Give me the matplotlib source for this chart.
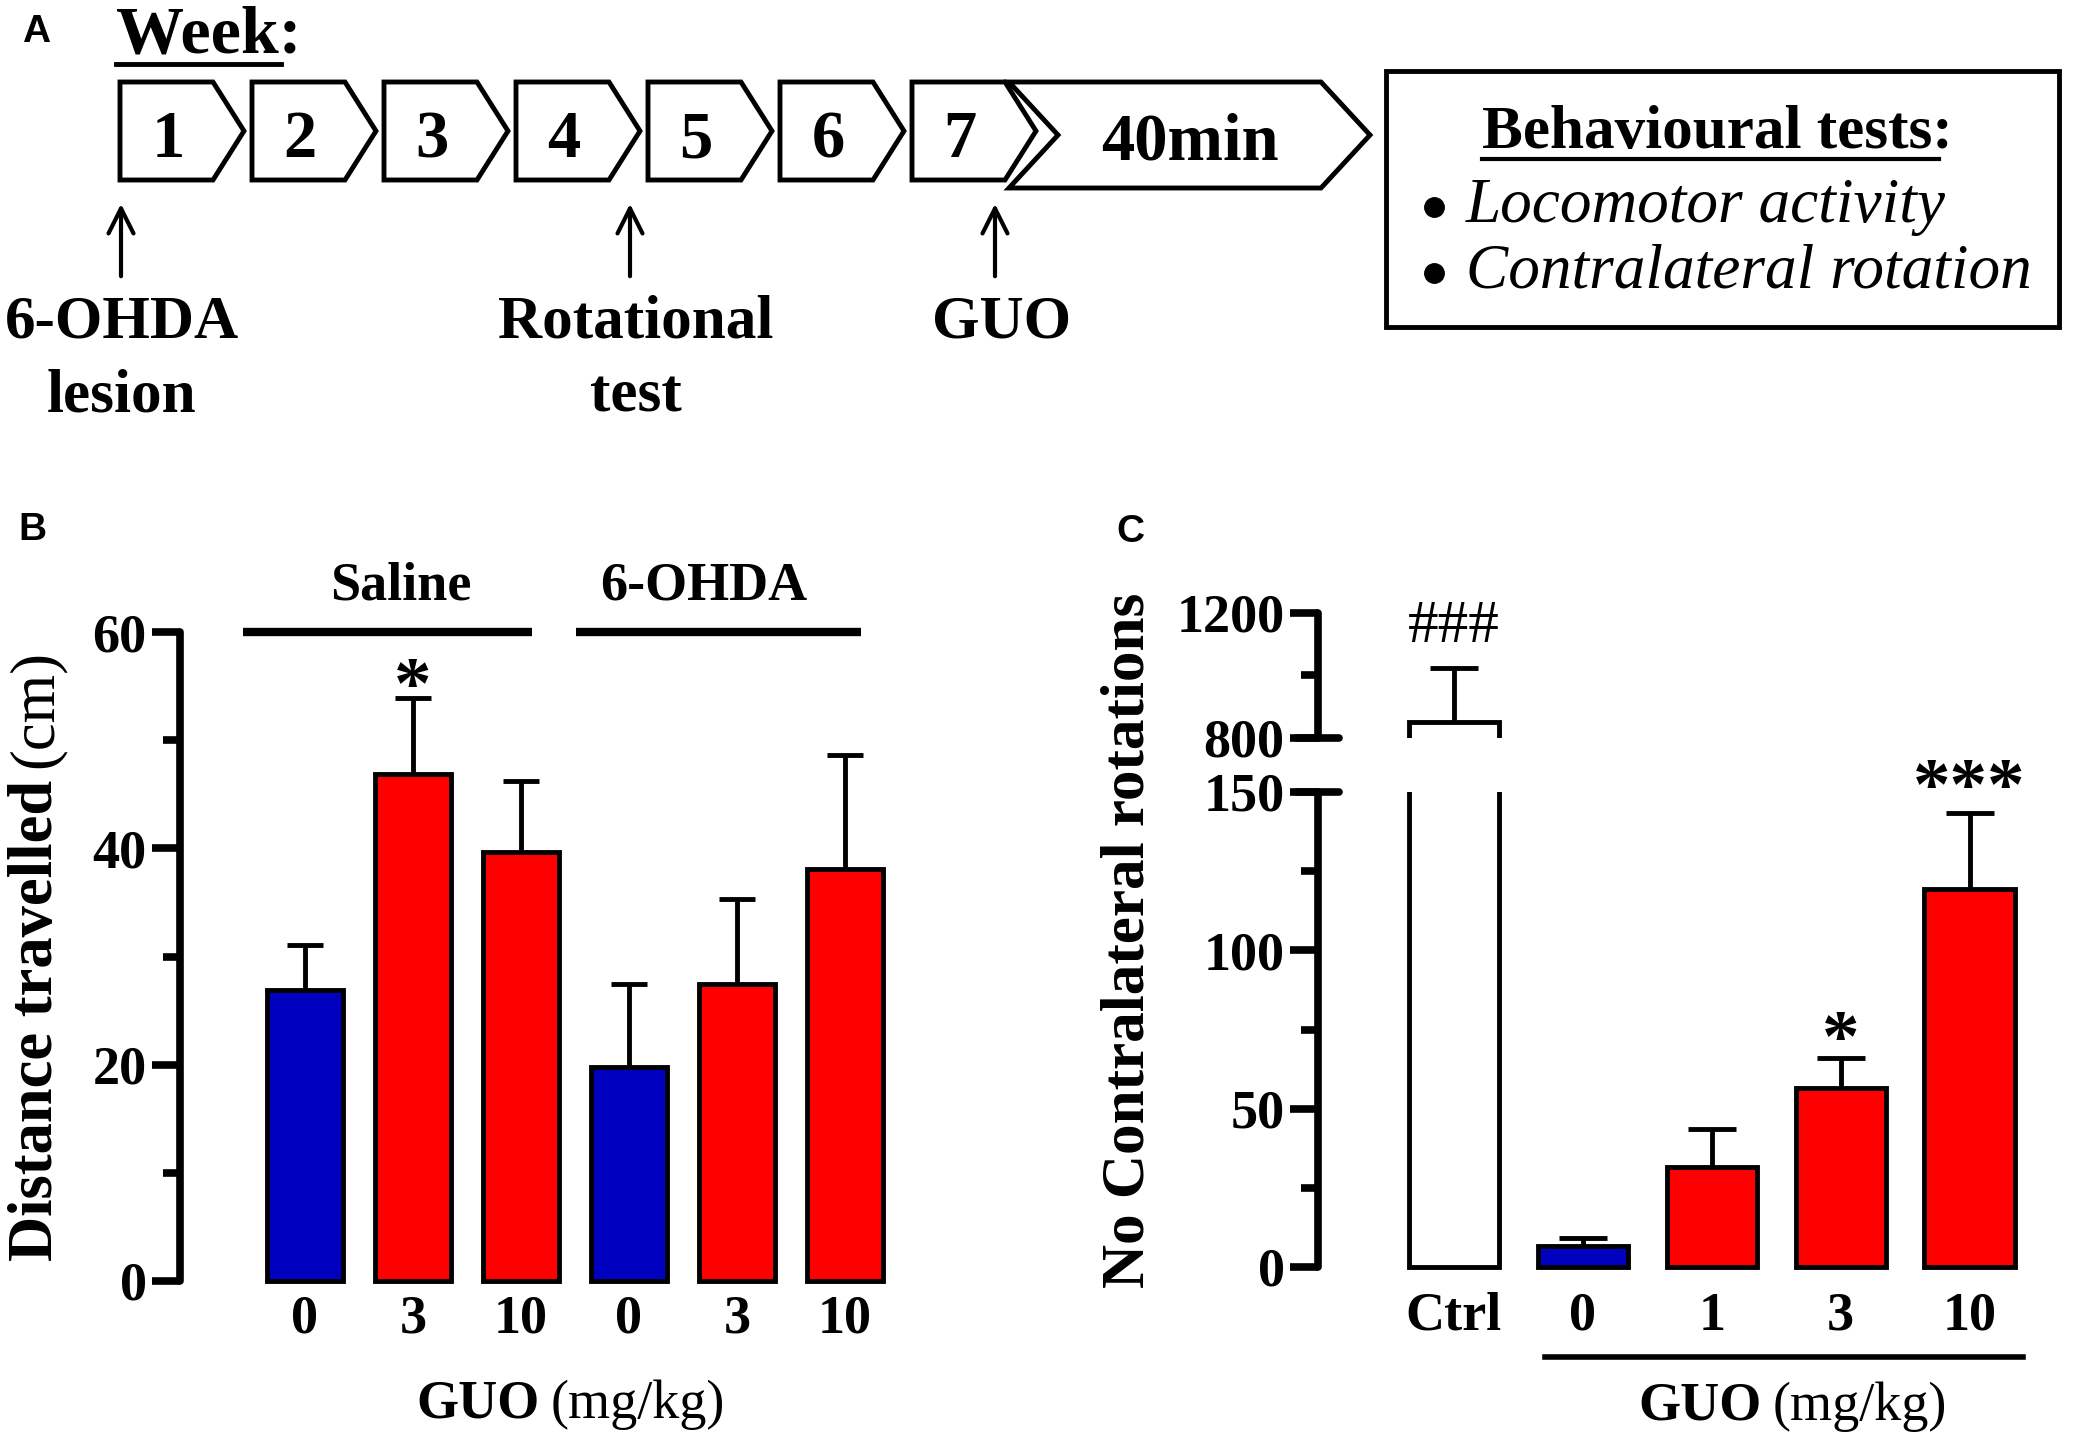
import matplotlib.pyplot as plt
from matplotlib.patches import Polygon, Rectangle
from matplotlib.ticker import MultipleLocator

plt.rcParams['font.family'] = ['Liberation Serif', 'DejaVu Serif']
plt.rcParams['font.weight'] = 'bold'

# ---- panel A: timeline ----
weeks = ['1', '2', '3', '4', '5', '6', '7']
final_step = '40min'
events = ['6-OHDA\nlesion', 'Rotational\ntest', 'GUO']
tests_title = 'Behavioural tests:'
tests = ['Locomotor activity', 'Contralateral rotation']

# ---- panel B: distance travelled ----
b_doses = ['0', '3', '10', '0', '3', '10']
b_groups = ['Saline', '6-OHDA']
b_means = [26.9, 46.9, 39.7, 19.8, 27.5, 38.1]
b_sem = [4.2, 7.0, 6.5, 7.7, 7.8, 10.5]
b_colors = ['#0000c0', '#ff0000', '#ff0000', '#0000c0', '#ff0000', '#ff0000']
b_sig = ['', '*', '', '', '', '']

# ---- panel C: contralateral rotations ----
c_labels = ['Ctrl', '0', '1', '3', '10']
c_means = [851, 6.5, 31.5, 56.5, 119.5]
c_sem = [173, 2.7, 12, 9.5, 24]
c_colors = ['white', '#0000c0', '#ff0000', '#ff0000', '#ff0000']
c_sig = ['###', '', '', '*', '***']

W, H = 2090, 1440
SPINE = 5.5
EDGE = 3.5
TICKFS = 39
STARFS = 54

fig = plt.figure(figsize=(W / 100, H / 100), dpi=100)

# overlay axes in pixel coordinates for the schematic and free text
ov = fig.add_axes([0, 0, 1, 1])
ov.set_xlim(0, W)
ov.set_ylim(H, 0)
ov.axis('off')

sans = ['Liberation Sans', 'DejaVu Sans']
ov.text(36, 32, 'A', family=sans, fontsize=28, ha='center', va='center')
ov.text(32, 530, 'B', family=sans, fontsize=28, ha='center', va='center')
ov.text(1130, 532, 'C', family=sans, fontsize=28, ha='center', va='center')

# "Week:" header
ov.text(116, 53, 'Week:', fontsize=49, ha='left', va='baseline')
ov.plot([116, 281], [64, 64], color='k', lw=3.5)

# week chevrons
for i, w in enumerate(weeks):
    L = 120 + i * 132
    pts = [(L, 82), (L + 93, 82), (L + 124, 131), (L + 93, 180), (L, 180)]
    ov.add_patch(Polygon(pts, closed=True, fc='white', ec='k', lw=EDGE,
                         joinstyle='miter'))
    ov.text(L + 48, 157, w, fontsize=48, ha='center', va='baseline')

pts = [(1009, 82), (1321, 82), (1370, 135), (1321, 188), (1009, 188), (1058, 135)]
ov.add_patch(Polygon(pts, closed=True, fc='white', ec='k', lw=EDGE, joinstyle='miter'))
ov.text(1190, 160, final_step, fontsize=48, ha='center', va='baseline')

# event arrows
event_x = [121, 630, 995]
label_x = [122, 636, 1002]
for x, lx, ev in zip(event_x, label_x, events):
    ov.annotate('', xy=(x, 201), xytext=(x, 279),
                arrowprops=dict(arrowstyle='->', lw=3, color='k', mutation_scale=45))
    for j, line in enumerate(ev.split('\n')):
        ov.text(lx, 338 + j * 74, line, fontsize=44, ha='center', va='baseline')

# behavioural tests box
ov.add_patch(Rectangle((1386, 71), 673, 256, fill=False, ec='k', lw=EDGE))
ov.text(1482, 148, tests_title, fontsize=44, ha='left', va='baseline')
ov.plot([1482, 1939], [159, 159], color='k', lw=3)
for j, t in enumerate(tests):
    ov.plot(1434, 207 + j * 66, 'o', color='k', ms=14)
    ov.text(1466, 222 + j * 65, t, fontsize=45.5, ha='left', va='baseline',
            style='italic', weight='normal')


def style_left(ax):
    for s in ['top', 'right', 'bottom']:
        ax.spines[s].set_visible(False)
    ax.spines['left'].set_linewidth(SPINE)
    ax.spines['left'].set_capstyle('round')
    ax.set_facecolor('none')
    ax.tick_params(axis='y', which='major', length=20, width=SPINE, labelsize=TICKFS, pad=4)
    ax.tick_params(axis='y', which='minor', length=12, width=SPINE)
    ax.tick_params(axis='x', length=0, labelsize=TICKFS)


# ---- panel B ----
axb = fig.add_axes([180 / W, 1 - 1281 / H, (899 - 180) / W, (1281 - 632) / H])
xb = list(range(len(b_means)))
axb.errorbar(xb, b_means, yerr=b_sem, fmt='none', ecolor='k', elinewidth=EDGE,
             capsize=13, capthick=EDGE, zorder=1)
bars = axb.bar(xb, b_means, width=0.7, color=b_colors, edgecolor='k',
               linewidth=EDGE, zorder=2)
for p in bars:
    p.set_clip_on(False)
axb.set_xlim(-1.157, 5.5)
axb.set_ylim(0, 60)
style_left(axb)
axb.set_yticks([0, 20, 40, 60])
axb.yaxis.set_minor_locator(MultipleLocator(10))
axb.set_xticks(xb)
axb.set_xticklabels(b_doses)
axb.tick_params(axis='x', pad=10)
for x, m, e, s in zip(xb, b_means, b_sem, b_sig):
    if s:
        axb.text(x, m + e - 0.9, s, fontsize=STARFS, ha='center', va='baseline', clip_on=False)

group_spans = [(-0.57, 2.1), (2.51, 5.15)]
group_label_x = [0.89, 3.69]
for (x0, x1), gx, g in zip(group_spans, group_label_x, b_groups):
    axb.plot([x0, x1], [60, 60], color='k', lw=6, clip_on=False, solid_capstyle='butt')
    axb.text(gx, 63.0, g, fontsize=TICKFS, ha='center', va='baseline')

ov.text(52, 780, 'Distance travelled', fontsize=45, rotation=90, rotation_mode='anchor',
        ha='right', va='baseline')
ov.text(52, 768, '(cm)', fontsize=45, rotation=90, rotation_mode='anchor',
        ha='left', va='baseline', weight='normal')
ov.text(540, 1418, 'GUO', fontsize=TICKFS, ha='right', va='baseline')
ov.text(551, 1418, '(mg/kg)', fontsize=TICKFS, ha='left', va='baseline', weight='normal')

# ---- panel C (broken axis) ----
axc = fig.add_axes([1318 / W, 1 - 1267 / H, (2034 - 1318) / W, (1267 - 792) / H])
axc2 = fig.add_axes([1318 / W, 1 - 738 / H, (2034 - 1318) / W, (738 - 613) / H])
xc = list(range(len(c_means)))
for ax in (axc, axc2):
    ax.errorbar(xc, c_means, yerr=c_sem, fmt='none', ecolor='k', elinewidth=EDGE,
                capsize=17, capthick=EDGE, zorder=1)
    style_left(ax)
    ax.set_xlim(-1.054, 4.5)

bars_lo = axc.bar(xc, c_means, width=0.7, color=c_colors, edgecolor='k',
                  linewidth=EDGE, zorder=2)
clip = Rectangle((-0.1, -0.1), 1.2, 1.1, transform=axc.transAxes)
for p in bars_lo:
    p.set_clip_path(clip)
axc2.bar(xc, [m - 700 for m in c_means], bottom=700, width=0.7, color=c_colors,
         edgecolor='k', linewidth=EDGE, zorder=2)

axc.set_ylim(0, 150)
axc.set_yticks([0, 50, 100, 150])
axc.yaxis.set_minor_locator(MultipleLocator(25))
axc.set_xticks(xc)
axc.set_xticklabels(c_labels)
axc.tick_params(axis='x', pad=18)

axc2.set_ylim(800, 1200)
axc2.set_yticks([800, 1200])
axc2.yaxis.set_minor_locator(MultipleLocator(200))
axc2.set_xticks([])

# break marks crossing the spine
axc.plot([-0.03, 0.03], [150, 150], color='k', lw=SPINE, clip_on=False,
         solid_capstyle='round', transform=axc.get_yaxis_transform())
axc2.plot([-0.03, 0.03], [800, 800], color='k', lw=SPINE, clip_on=False,
          solid_capstyle='round', transform=axc2.get_yaxis_transform())

star_lift = {'*': -1.0, '***': 1.0}
for x, m, e, s in zip(xc, c_means, c_sem, c_sig):
    if s == '###':
        axc2.text(x, m + e + 40, s, fontsize=44, ha='center', va='bottom',
                  weight='normal', clip_on=False)
    elif s:
        axc.text(x, m + e + star_lift[s], s, fontsize=STARFS, ha='center', va='baseline',
                 clip_on=False)

ov.plot([1545, 2023], [1357, 1357], color='k', lw=4)
ov.text(1144, 940, 'No Contralateral rotations', fontsize=44, rotation=90,
        rotation_mode='anchor', ha='center', va='baseline')
ov.text(1762, 1420, 'GUO', fontsize=TICKFS, ha='right', va='baseline')
ov.text(1773, 1420, '(mg/kg)', fontsize=TICKFS, ha='left', va='baseline', weight='normal')

fig.savefig('out.png', dpi=100)
